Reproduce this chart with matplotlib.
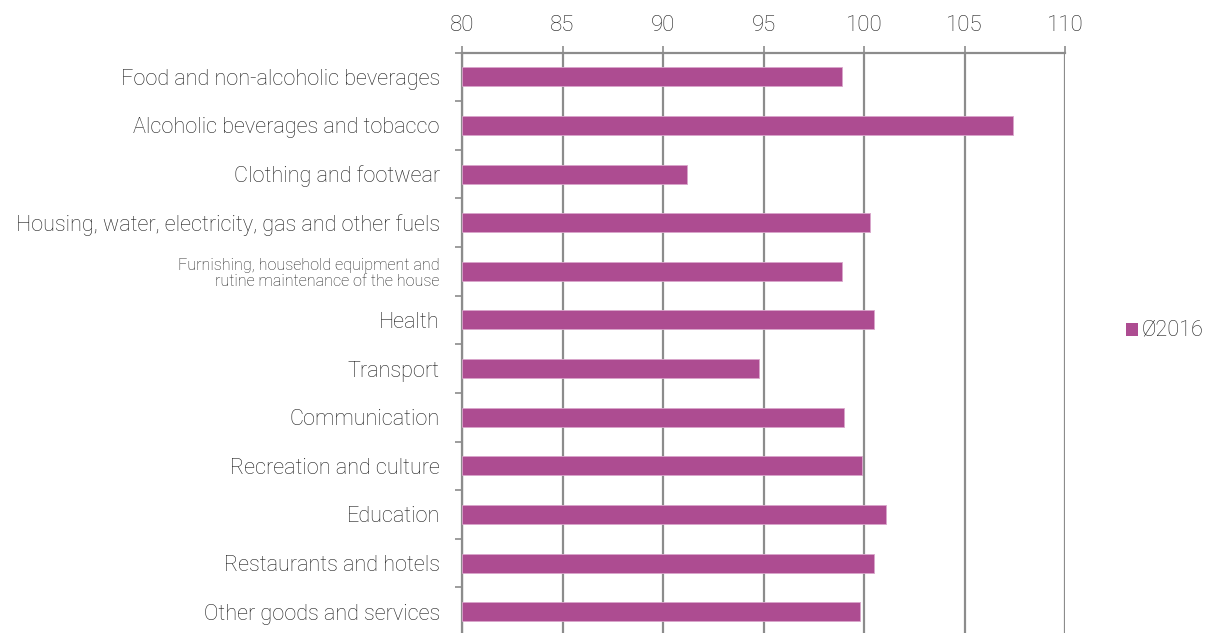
import matplotlib
matplotlib.use("Agg")
import matplotlib.pyplot as plt
from matplotlib.patches import Rectangle

categories = [
    "Food and non-alcoholic beverages",
    "Alcoholic beverages and tobacco",
    "Clothing and footwear",
    "Housing, water, electricity, gas and other fuels",
    "Furnishing, household equipment and\nrutine maintenance of the house",
    "Health",
    "Transport",
    "Communication",
    "Recreation and culture",
    "Education",
    "Restaurants and hotels",
    "Other goods and services",
]
values = [98.9, 107.4, 91.2, 100.3, 98.9, 100.5, 94.8, 99.0, 99.9, 101.1, 100.5, 99.8]
xticks = [80, 85, 90, 95, 100, 105, 110]
series_name = "Ø2016"

bar_color = "#AD4C91"
grid_color = "#8C8C8C"
text_color = "#1E1E1E"

plt.rcParams['font.family'] = ['Roboto', 'DejaVu Sans']

W, H = 1208, 633
fig = plt.figure(figsize=(W / 100, H / 100), dpi=100)
ax_left, ax_right, ax_top, ax_bottom = 462, 1065, 52.5, 636
ax = fig.add_axes([ax_left / W, (H - ax_bottom) / H, (ax_right - ax_left) / W, (ax_bottom - ax_top) / H])

n = len(categories)
pos = list(range(n))
ax.barh(pos, [v - 80 for v in values], left=80, height=0.39, color=bar_color,
        edgecolor="#D9A5CB", linewidth=0.6, zorder=3)

ax.set_xlim(80, 110)
ax.set_ylim(n - 0.5, -0.5)
ax.xaxis.tick_top()
ax.set_xticks(xticks)
ax.set_xticklabels([str(t) for t in xticks], fontsize=16, color=text_color,
                   fontweight='light')
ax.tick_params(axis='x', length=5, width=1.2, color=grid_color, pad=7)
ax.grid(axis='x', color=grid_color, linewidth=1.6, zorder=0)

ax.set_yticks(pos)
labels = ax.set_yticklabels(categories, fontsize=15.6, color=text_color, fontweight='light')
for lbl, cat in zip(labels, categories):
    if "\n" in cat:
        lbl.set_fontsize(11.6)
        lbl.set_linespacing(1.1)
ax.tick_params(axis='y', length=0, pad=16)
# minor ticks between categories on the left spine
ax.set_yticks([p - 0.5 for p in range(n + 1)], minor=True)
ax.tick_params(axis='y', which='minor', length=5, width=1.2, color=grid_color)

for s in ['left', 'top']:
    ax.spines[s].set_color(grid_color)
    ax.spines[s].set_linewidth(1.6)
for s in ['right', 'bottom']:
    ax.spines[s].set_visible(False)

# legend (square marker + label) placed to the right of the plot
sq = 12.5
fig.patches.append(Rectangle((1125.5 / W, 1 - 335.5 / H), sq / W, sq / H,
                             transform=fig.transFigure, facecolor=bar_color,
                             edgecolor="none", figure=fig))
fig.text(1142 / W, 1 - 329.5 / H, series_name, fontsize=15.6, fontweight='light',
         color=text_color, va='center', ha='left')

fig.savefig("out.png", dpi=100, facecolor="white")
